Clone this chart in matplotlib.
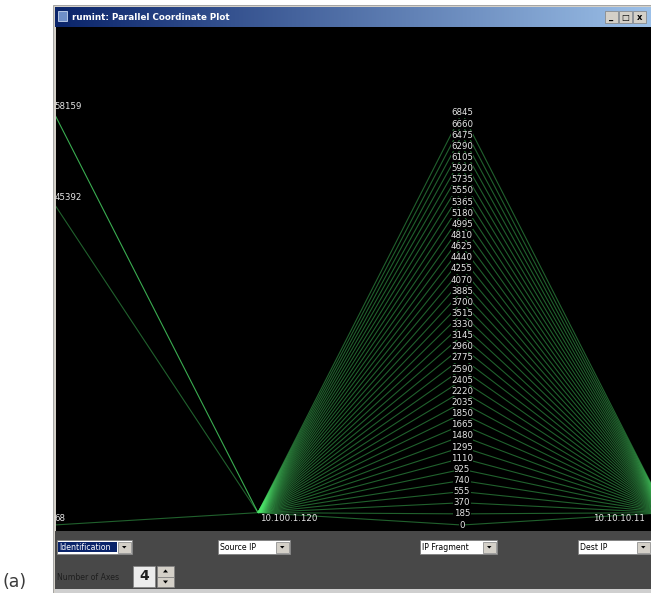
import matplotlib

matplotlib.use("Agg")
import matplotlib.pyplot as plt
import numpy as np
from collections import Counter
from matplotlib.patches import Rectangle, Polygon
from matplotlib.transforms import blended_transform_factory

# packet fields shown on the parallel axes
AXIS_NAMES = ["Identification", "Source IP", "IP Fragment", "Dest IP"]
FRAG_OFFSETS = [6845, 6660, 6475, 6290, 6105, 5920, 5735, 5550, 5365, 5180,
                4995, 4810, 4625, 4440, 4255, 4070, 3885, 3700, 3515, 3330,
                3145, 2960, 2775, 2590, 2405, 2220, 2035, 1850, 1665, 1480,
                1295, 1110, 925, 740, 555, 370, 185, 0]
IDENT_VALUES = [58159, 45392, 68]
IDENT_COUNTS = [36, 1, 1]
SOURCE_IP = "10.100.1.120"
DEST_IP = "10.10.10.11"
NUM_AXES = 4

W, H = 651, 593
LINE_COLOR = (0.30, 0.90, 0.42)
LABEL_COLOR = "#e6e6e6"

fig = plt.figure(figsize=(W / 100, H / 100), dpi=100, facecolor="white")

# ---- window chrome (pixel coordinates) ----
bg = fig.add_axes([0, 0, 1, 1], zorder=0)
bg.set_xlim(0, W)
bg.set_ylim(H, 0)
bg.axis("off")

bg.add_patch(Rectangle((53, 5), 600, 590, facecolor="#d4d0c8", edgecolor="#9a9a9a", lw=0.6))
grad = np.linspace(0, 1, 256).reshape(1, -1)
c0 = np.array([0x0a, 0x24, 0x6a]) / 255
c1 = np.array([0x9c, 0xc0, 0xe8]) / 255
grad_rgb = c0[None, None, :] * (1 - grad[..., None]) + c1[None, None, :] * grad[..., None]
bg.imshow(grad_rgb, extent=(55, W, 27, 7), aspect="auto", zorder=1)
bg.add_patch(Rectangle((58, 11), 9, 10, facecolor="#6f8fc8", edgecolor="#c8d8f0", lw=0.6, zorder=2))
bg.text(72, 17, "rumint: Parallel Coordinate Plot", color="white", fontsize=6.3,
        fontweight="bold", va="center", ha="left", zorder=2)
for bx, sym in [(605, "_"), (619, "□"), (633, "x")]:
    bg.add_patch(Rectangle((bx, 11), 13, 12, facecolor="#d4d0c8", edgecolor="#808080", lw=0.5, zorder=2))
    bg.text(bx + 6.5, 17.5, sym, fontsize=6, fontweight="bold", ha="center", va="center",
            color="black", zorder=3)

# control panel under the plot
bg.add_patch(Rectangle((55, 531), W - 55, 58, facecolor="#484848", edgecolor="none", zorder=1))
bg.add_patch(Rectangle((55, 589), W - 55, 6, facecolor="#cfcfcf", edgecolor="none", zorder=1))


def combo(x, w, text, selected=False):
    y = 540
    bg.add_patch(Rectangle((x, y), w, 14, facecolor="white", edgecolor="#808080", lw=0.6, zorder=2))
    if selected:
        bg.add_patch(Rectangle((x + 1, y + 2), w - 16, 10, facecolor="#0a246a", edgecolor="none", zorder=3))
    bg.text(x + 2, y + 7.5, text, fontsize=5.6, ha="left", va="center",
            color="white" if selected else "black", zorder=4)
    bx = x + w - 14
    bg.add_patch(Rectangle((bx, y + 1.5), 12.5, 11, facecolor="#d4d0c8", edgecolor="#808080", lw=0.5, zorder=3))
    bg.add_patch(Polygon([(bx + 4, y + 6), (bx + 8.5, y + 6), (bx + 6.25, y + 8.5)],
                         closed=True, facecolor="black", zorder=4))


combo(57, 75, AXIS_NAMES[0], selected=True)
combo(218, 72, AXIS_NAMES[1])
combo(420, 77, AXIS_NAMES[2])
combo(578, 73, AXIS_NAMES[3])

bg.text(57, 577, "Number of Axes", fontsize=5.6, color="#1e1e1e", ha="left", va="center", zorder=2)
bg.add_patch(Rectangle((133, 566), 22, 21, facecolor="#ececec", edgecolor="#808080", lw=0.5, zorder=2))
bg.text(144, 576.5, str(NUM_AXES), fontsize=10, fontweight="bold", ha="center", va="center",
        color="#202020", zorder=3)
for sy, up in [(566, True), (576.5, False)]:
    bg.add_patch(Rectangle((157, sy), 17, 10.5, facecolor="#d4d0c8", edgecolor="#808080", lw=0.5, zorder=2))
    tip = sy + 3.5 if up else sy + 7
    base = sy + 6.5 if up else sy + 4
    bg.add_patch(Polygon([(163, base), (168, base), (165.5, tip)], closed=True,
                         facecolor="black", zorder=3))

bg.text(3, 582, "(a)", fontsize=12.5, color="#3a3a3a", ha="left", va="center", zorder=2)

# ---- parallel coordinate plot ----
px_left, px_right, px_top, px_bottom = 56, W, 27, 531
ax = fig.add_axes([px_left / W, 1 - px_bottom / H, (px_right - px_left) / W,
                   (px_bottom - px_top) / H], zorder=1)
ax.set_facecolor("black")
spacing = 204.0
ax.set_xlim(1 - (258 - px_left) / spacing, 2 + (px_right - 462) / spacing)
span = 412.0
ax.set_ylim((525 - px_bottom) / span, (525 - px_top) / span)
ax.set_xticks([])
ax.set_yticks([])
for s in ax.spines.values():
    s.set_visible(False)

ident = np.repeat(IDENT_VALUES, IDENT_COUNTS)
ident_norm = (ident - min(IDENT_VALUES)) / (max(IDENT_VALUES) - min(IDENT_VALUES))
frag = np.array(FRAG_OFFSETS, dtype=float)
frag_norm = (frag - frag.min()) / (frag.max() - frag.min())
ip_level = 0.03  # single-valued address axes sit near the floor

# one polyline per packet, drawn as segments between neighbouring axes;
# identical segments are merged and shaded by how many packets share them
records = [(i_n, ip_level, f_n, ip_level) for i_n, f_n in zip(ident_norm, frag_norm)]
for k in range(len(AXIS_NAMES) - 1):
    counts = Counter((round(r[k], 6), round(r[k + 1], 6)) for r in records)
    top = max(counts.values())
    for (y0, y1), c in counts.items():
        alpha = 0.42 + 0.33 * (c - 1) / max(top - 1, 1)
        ax.plot([k, k + 1], [y0, y1], color=LINE_COLOR, alpha=alpha, lw=0.8,
                solid_capstyle="butt")

label_kw = dict(color=LABEL_COLOR, fontsize=6.2, clip_on=False)
for v in IDENT_VALUES:
    n = (v - min(IDENT_VALUES)) / (max(IDENT_VALUES) - min(IDENT_VALUES))
    ax.text(0.002, n + 0.004, str(v), ha="left", va="bottom", **label_kw)
for v, n in zip(FRAG_OFFSETS, frag_norm):
    ax.text(2, n, str(v), ha="center", va="center",
            bbox=dict(facecolor="black", edgecolor="none", pad=0.2), **label_kw)
ax.text(1.01, ip_level - 0.004, SOURCE_IP, ha="left", va="top", **label_kw)
edge = blended_transform_factory(ax.transAxes, ax.transData)
ax.text(0.99, ip_level - 0.004, DEST_IP, transform=edge, ha="right", va="top", **label_kw)

fig.savefig("out.png", dpi=100, facecolor=fig.get_facecolor())
plt.close(fig)
